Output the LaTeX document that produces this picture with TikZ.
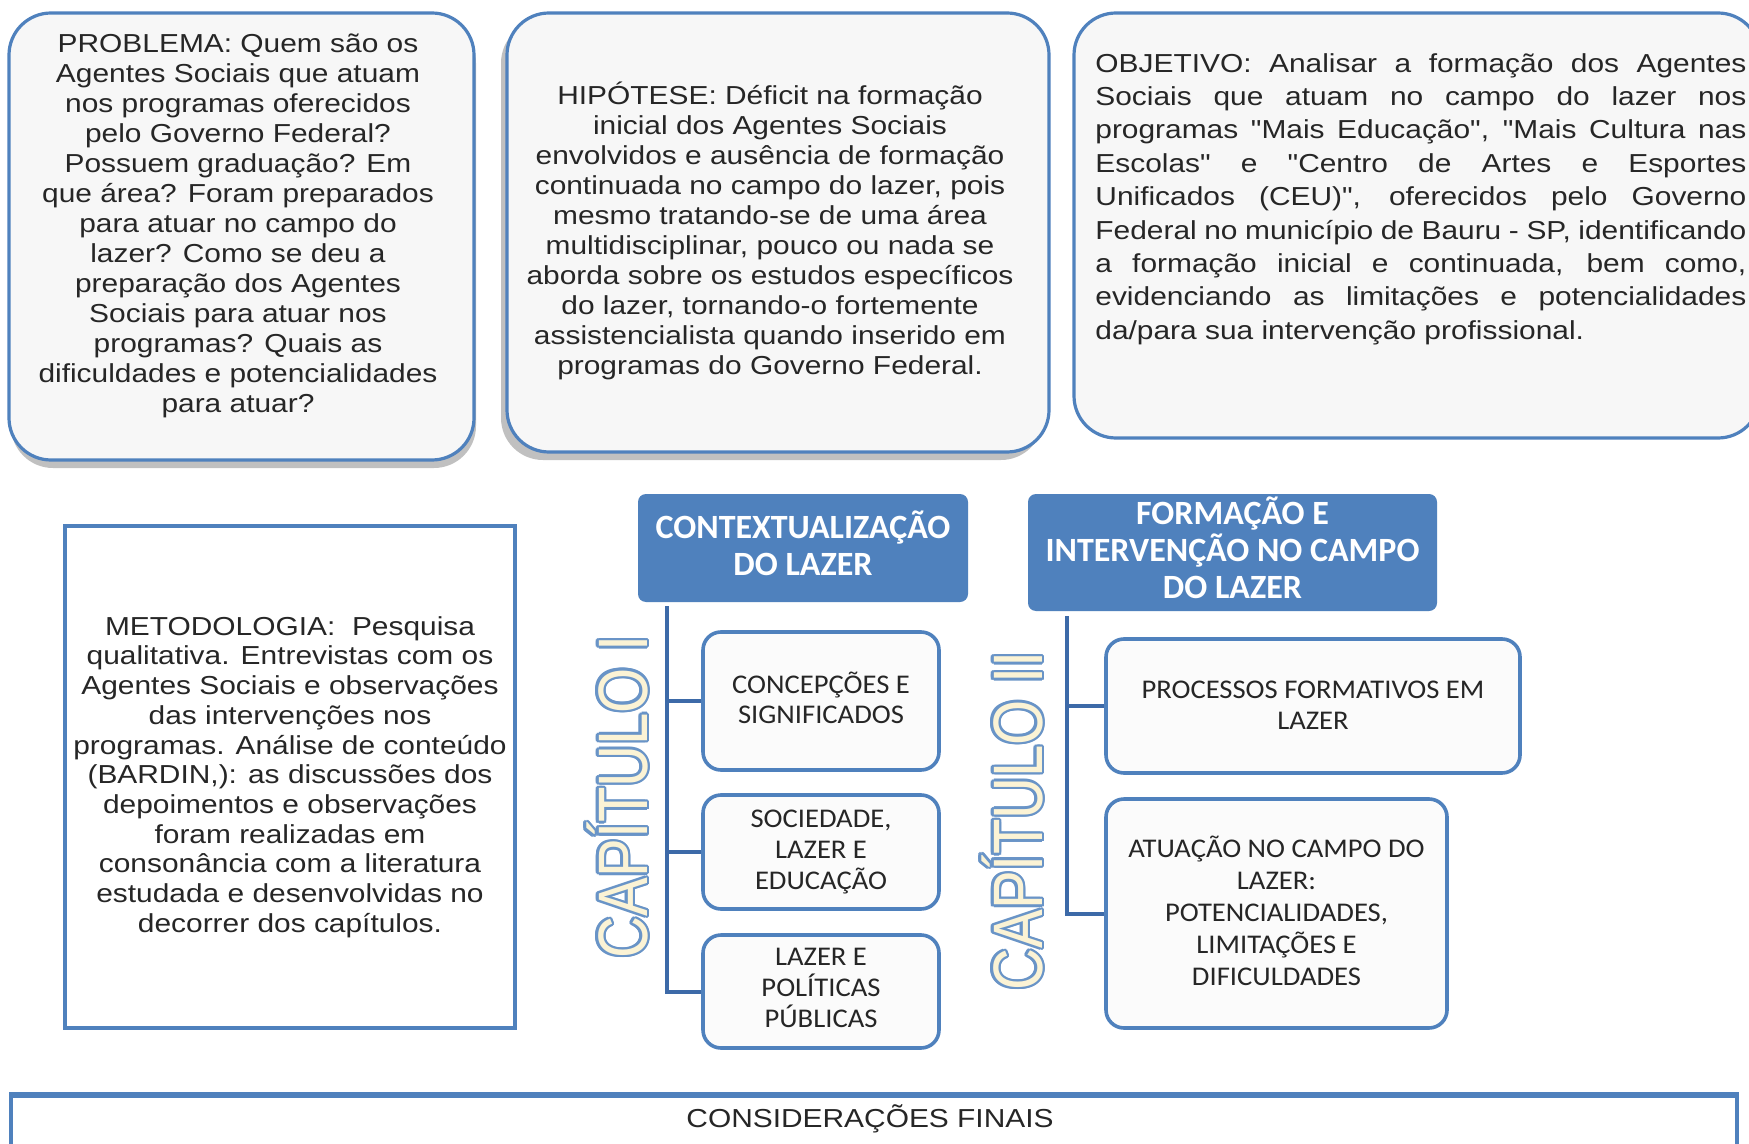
\documentclass[tikz,border=0pt]{standalone}
\usepackage{fontspec}
\setmainfont{Liberation Sans}
\newfontfamily\bodyf{Liberation Sans}[FakeStretch=1.15]
\newfontfamily\itemf{Carlito}[FakeStretch=1.06]
\newfontfamily\hdrf{Carlito}
\newfontfamily\capf{Liberation Sans}
\usetikzlibrary{shadows,calc}
\definecolor{boxblue}{HTML}{4F81BD}
\definecolor{linkblue}{HTML}{3D6AA8}
\definecolor{hdrblue}{HTML}{4F81BD}
\definecolor{capcream}{HTML}{FBF3D5}
\definecolor{topfill}{HTML}{F7F7F7}
\definecolor{itemfill}{HTML}{FBFBFB}
\definecolor{txt}{HTML}{262626}
\begin{document}
\begin{tikzpicture}[x=0.5pt,y=-0.5pt,
  topbox/.style={draw=boxblue, line width=1.6pt, rounded corners=21pt, fill=topfill, inner sep=0pt},
  shadowed/.style={drop shadow={shadow xshift=#1, shadow yshift=-4pt, opacity=0.35, fill=black!70}},
  bodytext/.style={font=\bodyf\fontsize{13pt}{15pt}\selectfont, inner sep=0pt, text=txt},
  hdrbox/.style={fill=hdrblue, rounded corners=4pt, inner sep=0pt},
  hdrtext/.style={inner sep=0pt, text=white, align=center,
     font=\hdrf\bfseries\fontsize{17pt}{18.5pt}\selectfont},
  itembox/.style={draw=boxblue, line width=1.8pt, rounded corners=9pt, fill=itemfill, inner sep=0pt},
  itemtext/.style={inner sep=0pt, align=center, text=txt, font=\itemf\fontsize{13.5pt}{15.3pt}\selectfont},
  link/.style={draw=linkblue, line width=2pt},
  captext/.style={font=\capf\fontsize{35pt}{35pt}\selectfont, rotate=90, inner sep=0pt}
]
\clip (0,0) rectangle (1749,1144);
\fill[white] (0,0) rectangle (1749,1144);

% top boxes
\node[topbox, shadowed=1pt, minimum width=232.5pt, minimum height=223.5pt] (prob) at (241.5,236.5) {};
\node[bodytext, align=center] (probtxt) at (238,226) {PROBLEMA: Quem são os\\Agentes Sociais que atuam\\nos programas oferecidos\\pelo Governo Federal?\\Possuem graduação? Em\\que área? Foram preparados\\para atuar no campo do\\lazer? Como se deu a\\preparação dos Agentes\\Sociais para atuar nos\\programas? Quais as\\dificuldades e potencialidades\\para atuar?};

\node[topbox, shadowed=-3pt, minimum width=271pt, minimum height=219.5pt] (hip) at (778,232.5) {};
\node[bodytext, align=center] (hiptxt) at (770,231) {HIPÓTESE: Déficit na formação\\inicial dos Agentes Sociais\\envolvidos e ausência de formação\\continuada no campo do lazer, pois\\mesmo tratando-se de uma área\\multidisciplinar, pouco ou nada se\\aborda sobre os estudos específicos\\do lazer, tornando-o fortemente\\assistencialista quando inserido em\\programas do Governo Federal.};

\node[topbox, minimum width=343pt, minimum height=212.5pt] (obj) at (1417,225.5) {};
\node[bodytext, font=\bodyf\fontsize{13pt}{16.7pt}\selectfont, text width=325.5pt, align=justify, anchor=west] (objtxt) at (1095,199) {OBJETIVO: Analisar a formação dos Agentes\linebreak Sociais que atuam no campo do lazer nos\linebreak programas "Mais Educação", "Mais Cultura nas\linebreak Escolas" e "Centro de Artes e Esportes\linebreak Unificados (CEU)", oferecidos pelo Governo\linebreak Federal no município de Bauru - SP, identificando\linebreak a formação inicial e continuada, bem como,\linebreak evidenciando as limitações e potencialidades\linebreak da/para sua intervenção profissional.};

% metodologia
\node[draw=boxblue, line width=1.6pt, fill=white, minimum width=225pt, minimum height=251pt, inner sep=0pt] (met) at (290,777) {};
\node[bodytext, font=\bodyf\fontsize{13pt}{14.85pt}\selectfont, align=center] (mettxt) at (290,777) {METODOLOGIA:\ \ Pesquisa\\qualitativa. Entrevistas com os\\Agentes Sociais e observações\\das intervenções nos\\programas. Análise de conteúdo\\(BARDIN,): as discussões dos\\depoimentos e observações\\foram realizadas em\\consonância com a literatura\\estudada e desenvolvidas no\\decorrer dos capítulos.};

% chapter I
\node[hdrbox, minimum width=165pt, minimum height=54pt] (h1) at (803,548) {};
\node[hdrtext] (h1txt) at (803,543.5) {CONTEXTUALIZAÇÃO\\DO LAZER};
\node[itembox, minimum width=118pt, minimum height=69pt] (c1) at (821,701) {};
\node[itemtext] (c1txt) at (821,698) {CONCEPÇÕES E\\SIGNIFICADOS};
\node[itembox, minimum width=118pt, minimum height=57pt] (c2) at (821,852) {};
\node[itemtext] (c2txt) at (821,852) {SOCIEDADE,\\LAZER E\\EDUCAÇÃO};
\node[itembox, minimum width=118pt, minimum height=56.5pt] (c3) at (821,991.5) {};
\node[itemtext] (c3txt) at (821,988) {LAZER E\\POLÍTICAS\\PÚBLICAS};
\coordinate (v1) at (667,606);
\draw[link] (v1) |- (c1.west);
\draw[link] (v1) |- (c2.west);
\draw[link] (v1) |- (c3.west);

% chapter II
\node[hdrbox, minimum width=204.5pt, minimum height=58.5pt] (h2) at (1232.5,552.5) {};
\node[hdrtext] (h2txt) at (1232.5,548) {FORMAÇÃO E\\INTERVENÇÃO NO CAMPO\\DO LAZER};
\node[itembox, minimum width=207pt, minimum height=67pt] (d1) at (1313,706) {};
\node[itemtext] (d1txt) at (1313,705) {PROCESSOS FORMATIVOS EM\\LAZER};
\node[itembox, minimum width=170.5pt, minimum height=114.5pt] (d2) at (1276.5,913.5) {};
\node[itemtext, font=\itemf\fontsize{13.5pt}{16pt}\selectfont] (d2txt) at (1276.5,911) {ATUAÇÃO NO CAMPO DO\\LAZER:\\POTENCIALIDADES,\\LIMITAÇÕES E\\DIFICULDADES};
\coordinate (v2) at (1067,616);
\draw[link] (v2) |- (d1.west);
\draw[link] (v2) |- (d2.west);

% chapter labels (outlined)
\foreach \a in {0,30,...,330}{
  \node[captext, text=boxblue!85] (capAo\a) at ($(617,797)+(\a:2.4)$) {\scalebox{0.83}[1]{CAPÍTULO I}};
  \node[captext, text=boxblue!85] (capBo\a) at ($(1012,821)+(\a:2.4)$) {\scalebox{0.83}[1]{CAPÍTULO II}};
}
\node[captext, text=capcream] (capA) at (617,797) {\scalebox{0.83}[1]{CAPÍTULO I}};
\node[captext, text=capcream] (capB) at (1012,821) {\scalebox{0.83}[1]{CAPÍTULO II}};

% consideracoes finais
\node[draw=boxblue, line width=1.6pt, fill=white, minimum width=863pt, minimum height=40pt, inner sep=0pt] (cf) at (874,1136) {};
\draw[boxblue, line width=2.2pt] (cf.north west) -- (cf.north east);
\node[bodytext] (cftxt) at (870,1119) {CONSIDERAÇÕES FINAIS};
\end{tikzpicture}
\end{document}
